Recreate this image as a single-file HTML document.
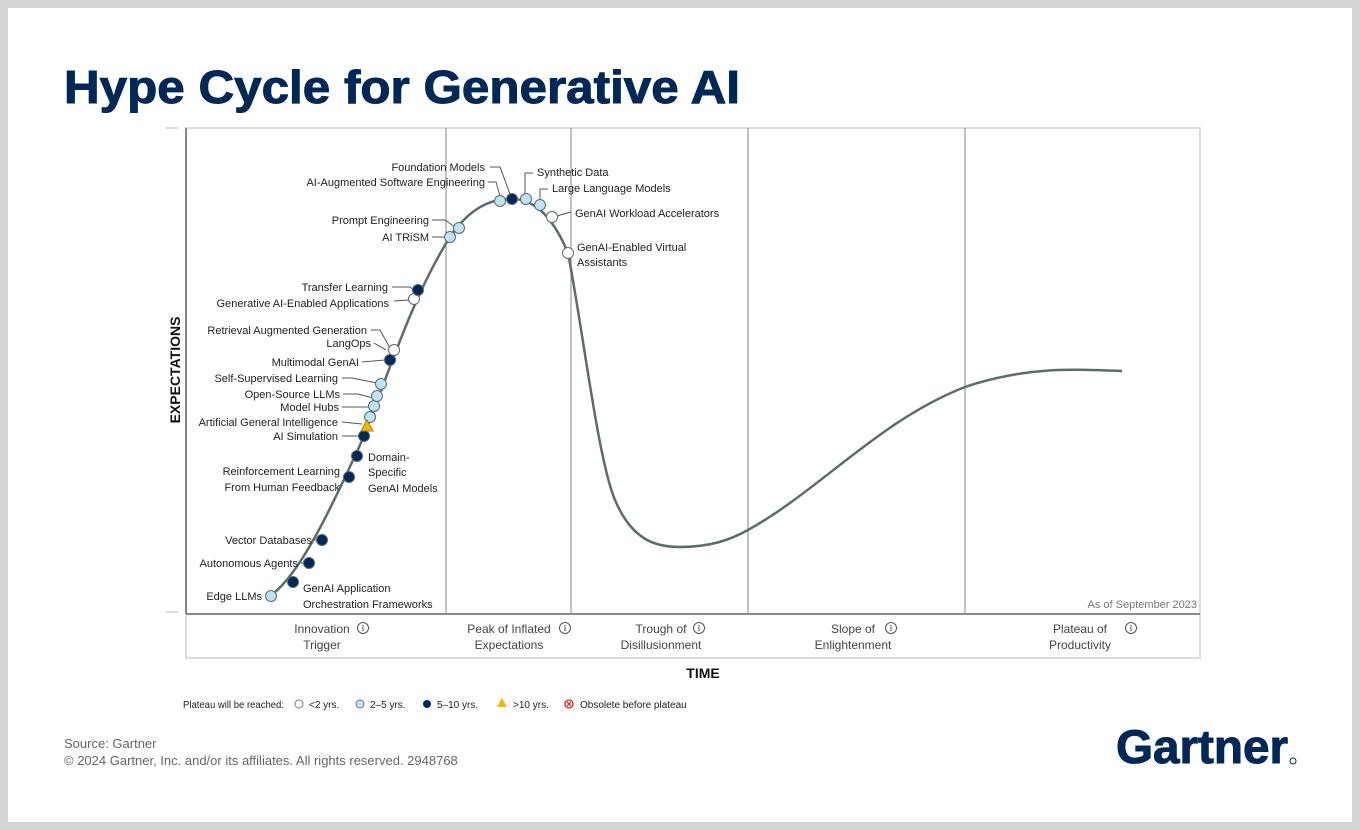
<!DOCTYPE html>
<html><head><meta charset="utf-8"><style>
html,body{margin:0;padding:0;background:#d4d4d4;}
svg{display:block;font-family:"Liberation Sans",sans-serif;}
</style></head><body>
<svg width="1360" height="830" viewBox="0 0 1360 830" xmlns="http://www.w3.org/2000/svg">
<rect x="0" y="0" width="1360" height="830" fill="#d4d4d4"/>
<rect x="8" y="8" width="1344" height="814" fill="#ffffff"/>
<text x="64" y="103" font-size="46" font-weight="bold" fill="#002856" stroke="#002856" stroke-width="1" textLength="676" lengthAdjust="spacingAndGlyphs">Hype Cycle for Generative AI</text>
<!-- plot frame -->
<rect x="186" y="128" width="1014" height="530" fill="none" stroke="#dcdcdc" stroke-width="2"/>
<line x1="186" y1="128" x2="186" y2="614" stroke="#666" stroke-width="1.5"/>
<line x1="186" y1="614" x2="1200" y2="614" stroke="#888" stroke-width="2"/>
<line x1="165" y1="128" x2="178" y2="128" stroke="#bbb"/>
<line x1="165" y1="612" x2="178" y2="612" stroke="#bbb"/>
<g stroke="#999" stroke-width="1.2">
<line x1="446" y1="128" x2="446" y2="614"/><line x1="571" y1="128" x2="571" y2="614"/>
<line x1="748" y1="128" x2="748" y2="614"/><line x1="965" y1="128" x2="965" y2="614"/>
</g>
<text x="1197" y="608" font-size="11" fill="#777" text-anchor="end">As of September 2023</text>
<!-- phases -->
<g font-size="12" fill="#444" text-anchor="middle">
<text x="322" y="633">Innovation</text><text x="322" y="649">Trigger</text>
<text x="509" y="633">Peak of Inflated</text><text x="509" y="649">Expectations</text>
<text x="661" y="633">Trough of</text><text x="661" y="649">Disillusionment</text>
<text x="853" y="633">Slope of</text><text x="853" y="649">Enlightenment</text>
<text x="1080" y="633">Plateau of</text><text x="1080" y="649">Productivity</text>
</g>
<g fill="none" stroke="#555" stroke-width="1">
<circle cx="363" cy="628" r="5.5"/><circle cx="565" cy="628" r="5.5"/><circle cx="699" cy="628" r="5.5"/><circle cx="891" cy="628" r="5.5"/><circle cx="1131" cy="628" r="5.5"/>
</g>
<g font-size="8" fill="#555" text-anchor="middle" font-weight="bold">
<text x="363" y="631">i</text><text x="565" y="631">i</text><text x="699" y="631">i</text><text x="891" y="631">i</text><text x="1131" y="631">i</text>
</g>
<text x="703" y="678" font-size="14" font-weight="bold" fill="#111" text-anchor="middle">TIME</text>
<text transform="translate(180,370) rotate(-90)" font-size="14" font-weight="bold" fill="#111" text-anchor="middle">EXPECTATIONS</text>
<!-- curve -->
<path fill="none" stroke="#5f6b6b" stroke-width="2.5" stroke-linejoin="round" d="M270,596 C300,575 330,510 360,445 C385,385 410,300 450,237 C475,200 500,199 512,199 C530,199 550,210 568,253 C583,330 598,460 615,500 C632,540 655,547 680,547 C710,547 730,540 748,530 C820,490 880,420 965,387 C1030,365 1080,370 1122,371"/>
<!-- leader lines -->
<g fill="none" stroke="#555" stroke-width="1">
<polyline points="488,182 496,182 500,196"/><polyline points="490,167 500,167 510,194"/>
<polyline points="533,173 525,173 525,194"/><polyline points="548,189 540,189 540,200"/>
<polyline points="571,212 560,215 556,217"/>
<polyline points="432,220 445,220 455,227"/><polyline points="432,237 446,237"/>
<polyline points="392,287 410,287 414,290"/><polyline points="394,301 409,300"/>
<polyline points="371,330 380,330 390,348"/><polyline points="374,343 386,350"/>
<polyline points="362,362 385,360"/><polyline points="342,378 352,378 377,383"/>
<polyline points="343,394 358,394 373,398"/><polyline points="342,407 369,407"/>
<polyline points="342,422 362,424"/><polyline points="342,436 358,436"/>
<polyline points="314,540 317,540"/><polyline points="301,563 304,563"/>
</g>
<!-- markers -->
<g stroke="#5a6a70" stroke-width="1">
<circle cx="271" cy="596" r="5.5" fill="#bfe3f2"/>
<circle cx="293" cy="582" r="5.5" fill="#002856"/>
<circle cx="309" cy="563" r="5.5" fill="#002856"/>
<circle cx="322" cy="540" r="5.5" fill="#002856"/>
<circle cx="349" cy="477" r="5.5" fill="#002856"/>
<circle cx="357" cy="456" r="5.5" fill="#002856"/>
<circle cx="364" cy="436" r="5.5" fill="#002856"/>
<circle cx="370" cy="417" r="5.5" fill="#bfe3f2"/>
<circle cx="374" cy="406" r="5.5" fill="#bfe3f2"/>
<circle cx="377" cy="396" r="5.5" fill="#bfe3f2"/>
<circle cx="381" cy="384" r="5.5" fill="#bfe3f2"/>
<circle cx="390" cy="360" r="5.5" fill="#002856"/>
<circle cx="394" cy="350" r="5.5" fill="#ffffff"/>
<circle cx="414" cy="299" r="5.5" fill="#ffffff"/>
<circle cx="418" cy="290" r="5.5" fill="#002856"/>
<circle cx="450" cy="237" r="5.5" fill="#bfe3f2"/>
<circle cx="459" cy="228" r="5.5" fill="#bfe3f2"/>
<circle cx="500" cy="201" r="5.5" fill="#bfe3f2"/>
<circle cx="512" cy="199" r="5.5" fill="#002856"/>
<circle cx="526" cy="199" r="5.5" fill="#bfe3f2"/>
<circle cx="540" cy="205" r="5.5" fill="#bfe3f2"/>
<circle cx="552" cy="217" r="5.5" fill="#ffffff"/>
<circle cx="568" cy="253" r="5.5" fill="#ffffff"/>
<polygon points="367,420 373,431 361,431" fill="#f5b800" stroke="#b08000"/>
</g>
<!-- labels -->
<g font-size="11" fill="#222">
<g text-anchor="end">
<text x="485" y="171">Foundation Models</text>
<text x="485" y="186">AI-Augmented Software Engineering</text>
<text x="429" y="224">Prompt Engineering</text>
<text x="429" y="241">AI TRiSM</text>
<text x="388" y="291">Transfer Learning</text>
<text x="389" y="307">Generative AI-Enabled Applications</text>
<text x="367" y="334">Retrieval Augmented Generation</text>
<text x="371" y="347">LangOps</text>
<text x="359" y="366">Multimodal GenAI</text>
<text x="338" y="382">Self-Supervised Learning</text>
<text x="340" y="398">Open-Source LLMs</text>
<text x="339" y="411">Model Hubs</text>
<text x="338" y="426">Artificial General Intelligence</text>
<text x="338" y="440">AI Simulation</text>
<text x="340" y="475">Reinforcement Learning</text>
<text x="340" y="491">From Human Feedback</text>
<text x="312" y="544">Vector Databases</text>
<text x="298" y="567">Autonomous Agents</text>
<text x="262" y="600">Edge LLMs</text>
</g>
<text x="537" y="176">Synthetic Data</text>
<text x="552" y="192">Large Language Models</text>
<text x="575" y="217">GenAI Workload Accelerators</text>
<text x="577" y="251">GenAI-Enabled Virtual</text>
<text x="577" y="266">Assistants</text>
<text x="368" y="461">Domain-</text>
<text x="368" y="476">Specific</text>
<text x="368" y="492">GenAI Models</text>
<text x="303" y="592">GenAI Application</text>
<text x="303" y="608">Orchestration Frameworks</text>
</g>
<!-- legend -->
<g font-size="10" fill="#222">
<text x="183" y="708" textLength="101" lengthAdjust="spacingAndGlyphs">Plateau will be reached:</text>
<circle cx="299" cy="704" r="4" fill="#fff" stroke="#777"/><text x="309" y="708">&lt;2 yrs.</text>
<circle cx="360" cy="704" r="4" fill="#bfe3f2" stroke="#777"/><text x="370" y="708">2–5 yrs.</text>
<circle cx="427" cy="704" r="4" fill="#002856"/><text x="437" y="708">5–10 yrs.</text>
<polygon points="502,698 507,707 497,707" fill="#f5b800"/><text x="513" y="708">&gt;10 yrs.</text>
<circle cx="569" cy="704" r="4" fill="#fff" stroke="#e02020" stroke-width="1.3"/>
<path d="M567,702 L571,706 M571,702 L567,706" stroke="#e02020" stroke-width="1.2"/>
<text x="580" y="708">Obsolete before plateau</text>
</g>
<!-- footer -->
<text x="64" y="748" font-size="13" fill="#666">Source: Gartner</text>
<text x="64" y="765" font-size="13" fill="#666">© 2024 Gartner, Inc. and/or its affiliates. All rights reserved. 2948768</text>
<text x="1116" y="763" font-size="47" font-weight="bold" fill="#002856" stroke="#002856" stroke-width="1" textLength="172" lengthAdjust="spacingAndGlyphs">Gartner</text>
<circle cx="1293" cy="761" r="3" fill="none" stroke="#002856" stroke-width="1"/>
</svg>
</body></html>
